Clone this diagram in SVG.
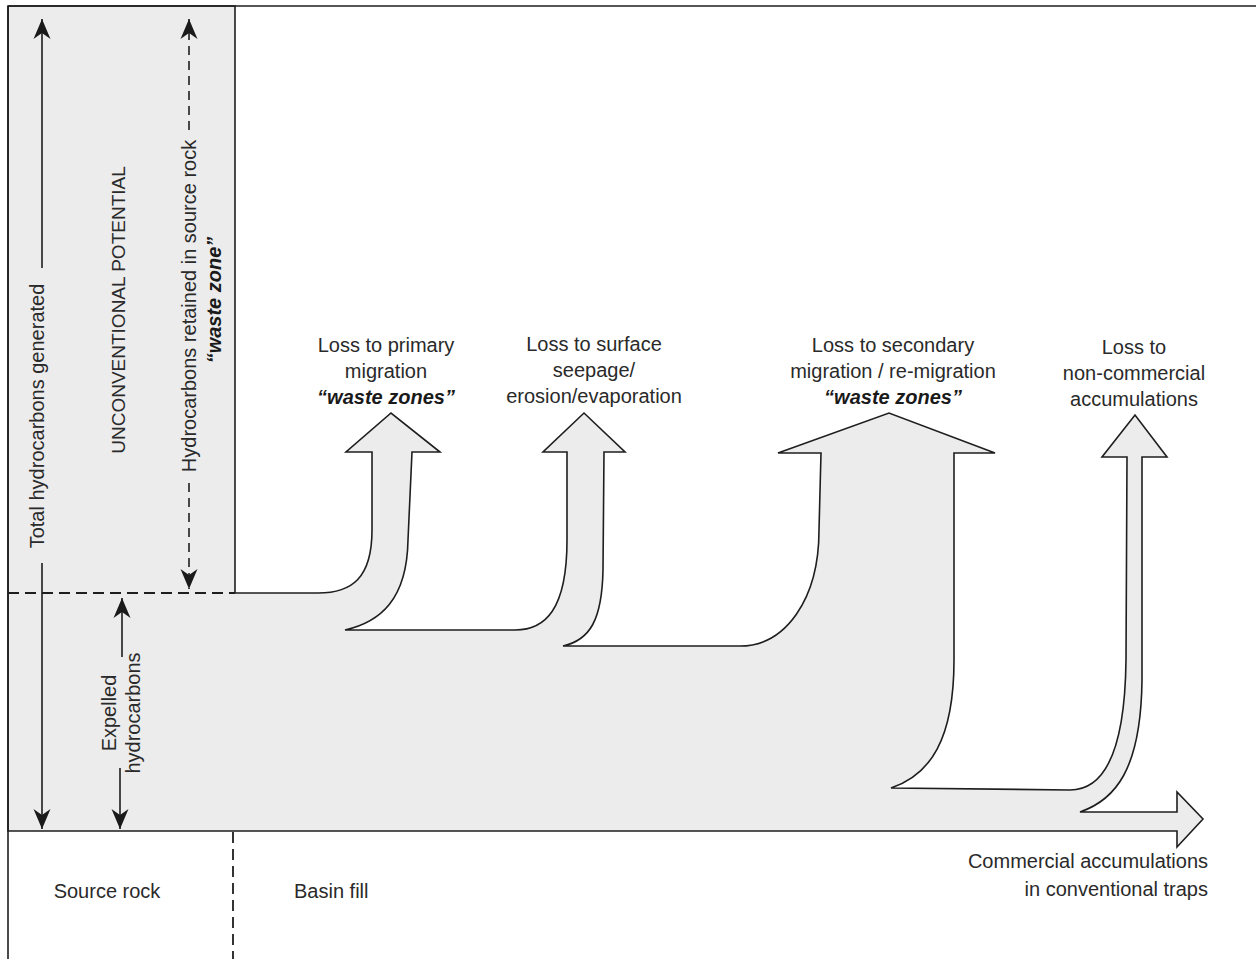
<svg xmlns="http://www.w3.org/2000/svg" width="1256" height="959" viewBox="0 0 1256 959">
  <style>
    text { font-family: "Liberation Sans", Arial, sans-serif; font-size: 20px; fill: #2a2a2a; }
    .bi { font-weight: bold; font-style: italic; fill: #1a1a1a; }
    .mid { text-anchor: middle; }
    .end { text-anchor: end; }
    .outline { stroke: #1e1e1e; stroke-width: 1.6; fill: none; stroke-linejoin: miter; }
    .band { fill: #ececec; stroke: #1e1e1e; stroke-width: 1.6; stroke-linejoin: miter; }
    .dash { stroke: #1e1e1e; stroke-width: 1.8; stroke-dasharray: 11 6; fill: none; }
    .conn { stroke: #1e1e1e; stroke-width: 1.6; fill: none; }
    .conn-dash { stroke: #1e1e1e; stroke-width: 1.6; fill: none; stroke-dasharray: 9 6; }
  </style>
  <defs>
    <marker id="head" markerUnits="userSpaceOnUse" viewBox="-22 -10 24 20" refX="0" refY="0" markerWidth="24" markerHeight="20" orient="auto">
      <path d="M0,0 L-20,-8.5 L-14,0 L-20,8.5 Z" fill="#1a1a1a"/>
    </marker>
  </defs>
  <rect x="0" y="0" width="1256" height="959" fill="#ffffff"/>

  <g id="flow-arrow">
    <path class="band" d="M8,6 L235,6 L235,593 L318,593 C352,593 372,578 372,530 L372,452 L346,452 L391,413 L440,452 L412,452 L408,540 C407,600 380,622 345,630 L515,630 C545,630 567,610 567,540 L567,452 L543,452 L584,413 L625,452 L604,452 L603,570 C602,620 590,640 563,646 L740,646 C785,646 819,600 819,530 L821,453 L778,453 L889,413 L995,453 L954,453 L954,660 C954,740 930,775 891,788 L1070,790 C1105,790 1125,750 1126,660 L1127,457 L1102,457 L1135,415 L1167,457 L1142,457 L1142,680 C1141,770 1115,800 1080,812 L1177,812 L1177,792 L1203,819 L1177,847 L1177,831 L8,831 Z"/>
  </g>

  <g id="frame">
    <line class="outline" x1="8" y1="6" x2="1256" y2="6"/>
    <line class="outline" x1="8" y1="6" x2="8" y2="959"/>
    <line class="dash" x1="8" y1="593" x2="235" y2="593"/>
    <line class="dash" x1="233" y1="832" x2="233" y2="959"/>
  </g>

  <g id="connectors">
    <line class="conn" x1="42" y1="268" x2="42" y2="19" marker-end="url(#head)"/>
    <line class="conn" x1="42" y1="563" x2="42" y2="829" marker-end="url(#head)"/>
    <line class="conn-dash" x1="189" y1="130" x2="189" y2="19" marker-end="url(#head)"/>
    <line class="conn-dash" x1="189" y1="483" x2="189" y2="589" marker-end="url(#head)"/>
    <line class="conn" x1="122" y1="657" x2="122" y2="598" marker-end="url(#head)"/>
    <line class="conn" x1="120" y1="768" x2="120" y2="829" marker-end="url(#head)"/>
  </g>

  <g id="label-total">
    <text class="mid" transform="translate(44,416) rotate(-90)">Total hydrocarbons generated</text>
  </g>
  <g id="label-unconventional">
    <text class="mid" transform="translate(125,310) rotate(-90)" style="font-size:19px">UNCONVENTIONAL POTENTIAL</text>
  </g>
  <g id="label-retained">
    <text class="mid" transform="translate(196,306) rotate(-90)">Hydrocarbons retained in source rock</text>
    <text class="mid bi" transform="translate(221,300) rotate(-90)">“waste zone”</text>
  </g>
  <g id="label-expelled">
    <text class="mid" transform="translate(116,713) rotate(-90)">Expelled</text>
    <text class="mid" transform="translate(140,713) rotate(-90)">hydrocarbons</text>
  </g>

  <g id="label-primary">
    <text class="mid" x="386" y="352">Loss to primary</text>
    <text class="mid" x="386" y="378">migration</text>
    <text class="mid bi" x="386" y="404">“waste zones”</text>
  </g>
  <g id="label-surface">
    <text class="mid" x="594" y="351">Loss to surface</text>
    <text class="mid" x="594" y="377">seepage/</text>
    <text class="mid" x="594" y="403">erosion/evaporation</text>
  </g>
  <g id="label-secondary">
    <text class="mid" x="893" y="352">Loss to secondary</text>
    <text class="mid" x="893" y="378">migration / re-migration</text>
    <text class="mid bi" x="893" y="404">“waste zones”</text>
  </g>
  <g id="label-noncommercial">
    <text class="mid" x="1134" y="354">Loss to</text>
    <text class="mid" x="1134" y="380">non-commercial</text>
    <text class="mid" x="1134" y="406">accumulations</text>
  </g>
  <g id="label-commercial">
    <text class="end" x="1208" y="868">Commercial accumulations</text>
    <text class="end" x="1208" y="896">in conventional traps</text>
  </g>
  <g id="label-source-rock">
    <text class="mid" x="107" y="898">Source rock</text>
  </g>
  <g id="label-basin-fill">
    <text x="294" y="898">Basin fill</text>
  </g>
</svg>
